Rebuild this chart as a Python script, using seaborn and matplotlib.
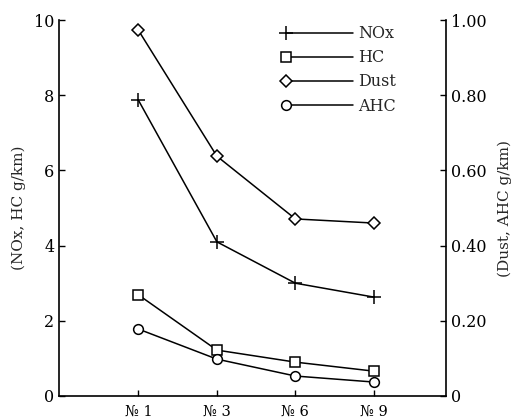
import matplotlib
matplotlib.use("Agg")
import matplotlib.pyplot as plt
import seaborn as sns
import pandas as pd
import numpy as np
from matplotlib.legend_handler import HandlerLine2DCompound
from matplotlib.lines import Line2D

categories = ["№ 1", "№ 3", "№ 6", "№ 9"]
nox = [7.87, 4.10, 3.00, 2.63]
hc = [2.69, 1.22, 0.90, 0.66]
dust = [0.973, 0.638, 0.471, 0.460]
ahc = [0.178, 0.098, 0.053, 0.037]
left_ticks = [0, 2, 4, 6, 8, 10]
right_ticks = [0, 0.2, 0.4, 0.6, 0.8, 1.0]
right_labels = ["0", "0.20", "0.40", "0.60", "0.80", "1.00"]

sns.set_style("ticks")
plt.rcParams["font.family"] = ["DejaVu Serif", "Noto Sans CJK JP"]

fig = plt.figure(figsize=(5.23, 4.19), dpi=100)
ax = fig.add_axes([0.113, 0.055, 0.740, 0.897])
ax2 = ax.twinx()

xpos = np.arange(len(categories))
df = pd.DataFrame({"x": xpos, "NOx": nox, "HC": hc, "Dust": dust, "AHC": ahc})

kw = dict(color="black", linewidth=1.1, markerfacecolor="white",
          markeredgecolor="black", markeredgewidth=1.1)
sns.lineplot(data=df, x="x", y="NOx", ax=ax, marker="+", markersize=10, **kw)
sns.lineplot(data=df, x="x", y="HC", ax=ax, marker="s", markersize=7, **kw)
sns.lineplot(data=df, x="x", y="Dust", ax=ax2, marker="D", markersize=6, **kw)
sns.lineplot(data=df, x="x", y="AHC", ax=ax2, marker="o", markersize=7, **kw)

ax.set_xlim(-1.01, 3.92)
ax.set_ylim(0, 10)
ax2.set_ylim(0, 1)
ax.set_xticks(xpos)
ax.set_xticklabels(categories, fontsize=10.5)
ax.set_yticks(left_ticks)
ax.set_yticklabels([str(t) for t in left_ticks], fontsize=11.5)
ax2.set_yticks(right_ticks)
ax2.set_yticklabels(right_labels, fontsize=11.5)
ax.set_xlabel("")
ax.set_ylabel("(NOx, HC g/km)", fontsize=11, labelpad=6)
ax2.set_ylabel("(Dust, AHC g/km)", fontsize=11, labelpad=8, rotation=90)

for a in (ax, ax2):
    a.tick_params(direction="in", length=4, width=1, colors="black")
    a.spines["top"].set_visible(False)
    for s in a.spines.values():
        s.set_linewidth(1.2)
        s.set_color("black")
ax2.spines["left"].set_visible(False)
ax2.spines["bottom"].set_visible(False)
ax.spines["right"].set_visible(False)
ax.tick_params(axis="x", pad=6)


class LeftMarkerHandler(HandlerLine2DCompound):
    def get_xdata(self, legend, xdescent, ydescent, width, height, fontsize):
        xdata = np.array([-xdescent, -xdescent + width])
        return xdata, np.array([-xdescent])


names = ["NOx", "HC", "Dust", "AHC"]
markers = [("+", 10), ("s", 7), ("D", 6), ("o", 7)]
handles = [Line2D([], [], marker=m, markersize=ms, **kw) for m, ms in markers]
leg = ax.legend(handles, names, loc="upper left", bbox_to_anchor=(0.55, 1.025),
                frameon=False, handlelength=4.2, handletextpad=0.3,
                labelspacing=0.45, fontsize=11.5,
                handler_map={h: LeftMarkerHandler() for h in handles})

fig.savefig("out.png", dpi=100)
